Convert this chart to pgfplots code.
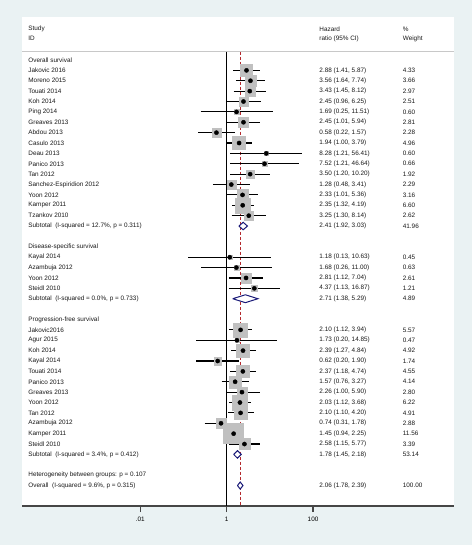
\documentclass[border=0pt]{standalone}
\usepackage{pgfplots}
\pgfplotsset{compat=1.18}
\usepackage{pgfplotstable}
\usepackage{fontspec}
\setmainfont{Liberation Sans}
\definecolor{bgc}{RGB}{234,242,243}
\definecolor{navyd}{RGB}{26,26,120}
\definecolor{redd}{RGB}{180,40,45}
\definecolor{boxg}{RGB}{192,192,192}
\definecolor{hdrline}{RGB}{200,200,200}
\definecolor{axl}{RGB}{70,70,70}

% row  hr  lo  hi  weight
\pgfplotstableread{
row hr lo hi w
1 2.88 1.41 5.87 4.33
2 3.56 1.64 7.74 3.66
3 3.43 1.45 8.12 2.97
4 2.45 0.96 6.25 2.51
5 1.69 0.25 11.51 0.60
6 2.45 1.01 5.94 2.81
7 0.58 0.22 1.57 2.28
8 1.94 1.00 3.79 4.96
9 8.28 1.21 56.41 0.60
10 7.52 1.21 46.64 0.66
11 3.50 1.20 10.20 1.92
12 1.28 0.48 3.41 2.29
13 2.33 1.01 5.36 3.16
14 2.35 1.32 4.19 6.60
15 3.25 1.30 8.14 2.62
19 1.18 0.13 10.63 0.45
20 1.68 0.26 11.00 0.63
21 2.81 1.12 7.04 2.61
22 4.37 1.13 16.87 1.21
26 2.10 1.12 3.94 5.57
27 1.73 0.20 14.85 0.47
28 2.39 1.27 4.84 4.92
29 0.62 0.20 1.90 1.74
30 2.37 1.18 4.74 4.55
31 1.57 0.76 3.27 4.14
32 2.26 1.00 5.90 2.80
33 2.03 1.12 3.68 6.22
34 2.10 1.10 4.20 4.91
35 0.74 0.31 1.78 2.88
36 1.45 0.94 2.25 11.56
37 2.58 1.15 5.77 3.39
}\studies

\def\xs{2.55e-5}
\def\xh{139.2}
\def\xw{1.186e4}
\newcommand{\rowtxt}[4]{%
  \node[lab] at (axis cs:\xs,#1) {#2};
  \node[lab] at (axis cs:\xh,#1) {#3};
  \node[lab] at (axis cs:\xw,#1) {#4};}

\begin{document}
\begin{tikzpicture}
\tikzset{lab/.style={anchor=west, inner sep=0pt, font=\fontsize{6.4}{7.5}\selectfont, text=black!90}}
\fill[bgc] (0bp,0bp) rectangle (472bp,545bp);
\begin{axis}[
  at={(22.3bp,39bp)}, anchor=south west,
  scale only axis, width=431.7bp, height=489.3bp,
  xmode=log, xmin=1.86e-5, xmax=1.83e5,
  ymin=-4.17, ymax=42.97, y dir=reverse,
  axis background/.style={fill=white},
  axis x line*=bottom, axis y line=none,
  x axis line style={line width=1.3bp, draw=axl, -},
  xtick={0.01,1,100}, xticklabels={.01,1,100}, minor xtick={},
  ytick=\empty,
  tick align=outside, major tick length=6bp,
  x tick style={line width=1.2bp, draw=axl},
  xticklabel style={font=\fontsize{6.4}{7.5}\selectfont, yshift=-2bp},
  clip=false,
]
% header separator
\addplot[hdrline, line width=1.6bp] coordinates {(1.86e-5,-0.80) (1.83e5,-0.80)};
% null line and overall line
\addplot[black, line width=1bp] coordinates {(1,-0.80) (1,42.97)};
\addplot[redd, line width=1.1bp, dash pattern=on 3bp off 2bp] coordinates {(2.06,-0.80) (2.06,42.97)};
% weight boxes
\addplot[scatter, only marks, mark=square*,
  scatter/use mapped color={draw=boxg, fill=boxg},
  visualization depends on={2.95*sqrt(\thisrow{w}) \as \ms},
  scatter/@pre marker code/.append style={/tikz/mark size=\ms}]
  table[x=hr, y=row] {\studies};
% confidence intervals, one segment per study, read from the table
\pgfplotstablegetrowsof{\studies}
\pgfmathtruncatemacro{\nrows}{\pgfplotsretval-1}
\pgfplotsinvokeforeach{0,...,\nrows}{
  \pgfplotstablegetelem{#1}{lo}\of\studies \let\cLo\pgfplotsretval
  \pgfplotstablegetelem{#1}{hi}\of\studies \let\cHi\pgfplotsretval
  \pgfplotstablegetelem{#1}{row}\of\studies \let\cRow\pgfplotsretval
  \edef\tmpci{\noexpand\addplot[black, line width=1.1bp, forget plot] coordinates {(\cLo,\cRow) (\cHi,\cRow)};}
  \tmpci
}
% point estimates
\addplot[only marks, mark=*, mark size=2.1bp, black] table[x=hr, y=row] {\studies};
% pooled diamonds
\addplot[draw=navyd, fill=white, line width=1bp] coordinates {(1.92,16) (2.41,15.64) (3.03,16) (2.41,16.36) (1.92,16)};
\addplot[draw=navyd, fill=white, line width=1bp] coordinates {(1.38,23) (2.71,22.62) (5.29,23) (2.71,23.38) (1.38,23)};
\addplot[draw=navyd, fill=white, line width=1bp] coordinates {(1.45,38) (1.78,37.64) (2.18,38) (1.78,38.36) (1.45,38)};
\addplot[draw=navyd, fill=white, line width=1bp] coordinates {(1.78,41) (2.06,40.66) (2.39,41) (2.06,41.34) (1.78,41)};

% header
\rowtxt{-2.99}{Study}{Hazard}{\%}
\rowtxt{-2.05}{ID}{ratio (95\% CI)}{Weight}
% texts
\node[lab] at (axis cs:\xs,0) {Overall survival};
\rowtxt{1}{Jakovic 2016}{2.88 (1.41, 5.87)}{4.33}
\rowtxt{2}{Moreno 2015}{3.56 (1.64, 7.74)}{3.66}
\rowtxt{3}{Touati 2014}{3.43 (1.45, 8.12)}{2.97}
\rowtxt{4}{Koh 2014}{2.45 (0.96, 6.25)}{2.51}
\rowtxt{5}{Ping 2014}{1.69 (0.25, 11.51)}{0.60}
\rowtxt{6}{Greaves 2013}{2.45 (1.01, 5.94)}{2.81}
\rowtxt{7}{Abdou 2013}{0.58 (0.22, 1.57)}{2.28}
\rowtxt{8}{Casulo 2013}{1.94 (1.00, 3.79)}{4.96}
\rowtxt{9}{Deau 2013}{8.28 (1.21, 56.41)}{0.60}
\rowtxt{10}{Panico 2013}{7.52 (1.21, 46.64)}{0.66}
\rowtxt{11}{Tan 2012}{3.50 (1.20, 10.20)}{1.92}
\rowtxt{12}{Sanchez-Espiridion 2012}{1.28 (0.48, 3.41)}{2.29}
\rowtxt{13}{Yoon 2012}{2.33 (1.01, 5.36)}{3.16}
\rowtxt{14}{Kamper 2011}{2.35 (1.32, 4.19)}{6.60}
\rowtxt{15}{Tzankov 2010}{3.25 (1.30, 8.14)}{2.62}
\rowtxt{16}{Subtotal\ \ (I-squared = 12.7\%, p = 0.311)}{2.41 (1.92, 3.03)}{41.96}
\node[lab] at (axis cs:\xs,18) {Disease-specific survival};
\rowtxt{19}{Kayal 2014}{1.18 (0.13, 10.63)}{0.45}
\rowtxt{20}{Azambuja 2012}{1.68 (0.26, 11.00)}{0.63}
\rowtxt{21}{Yoon 2012}{2.81 (1.12, 7.04)}{2.61}
\rowtxt{22}{Steidl 2010}{4.37 (1.13, 16.87)}{1.21}
\rowtxt{23}{Subtotal\ \ (I-squared = 0.0\%, p = 0.733)}{2.71 (1.38, 5.29)}{4.89}
\node[lab] at (axis cs:\xs,25) {Progression-free survival};
\rowtxt{26}{Jakovic2016}{2.10 (1.12, 3.94)}{5.57}
\rowtxt{27}{Agur 2015}{1.73 (0.20, 14.85)}{0.47}
\rowtxt{28}{Koh 2014}{2.39 (1.27, 4.84)}{4.92}
\rowtxt{29}{Kayal 2014}{0.62 (0.20, 1.90)}{1.74}
\rowtxt{30}{Touati 2014}{2.37 (1.18, 4.74)}{4.55}
\rowtxt{31}{Panico 2013}{1.57 (0.76, 3.27)}{4.14}
\rowtxt{32}{Greaves 2013}{2.26 (1.00, 5.90)}{2.80}
\rowtxt{33}{Yoon 2012}{2.03 (1.12, 3.68)}{6.22}
\rowtxt{34}{Tan 2012}{2.10 (1.10, 4.20)}{4.91}
\rowtxt{35}{Azambuja 2012}{0.74 (0.31, 1.78)}{2.88}
\rowtxt{36}{Kamper 2011}{1.45 (0.94, 2.25)}{11.56}
\rowtxt{37}{Steidl 2010}{2.58 (1.15, 5.77)}{3.39}
\rowtxt{38}{Subtotal\ \ (I-squared = 3.4\%, p = 0.412)}{1.78 (1.45, 2.18)}{53.14}
\node[lab] at (axis cs:\xs,40) {Heterogeneity between groups: p = 0.107};
\rowtxt{41}{Overall\ \ (I-squared = 9.6\%, p = 0.315)}{2.06 (1.78, 2.39)}{100.00}
\end{axis}
\end{tikzpicture}
\end{document}
